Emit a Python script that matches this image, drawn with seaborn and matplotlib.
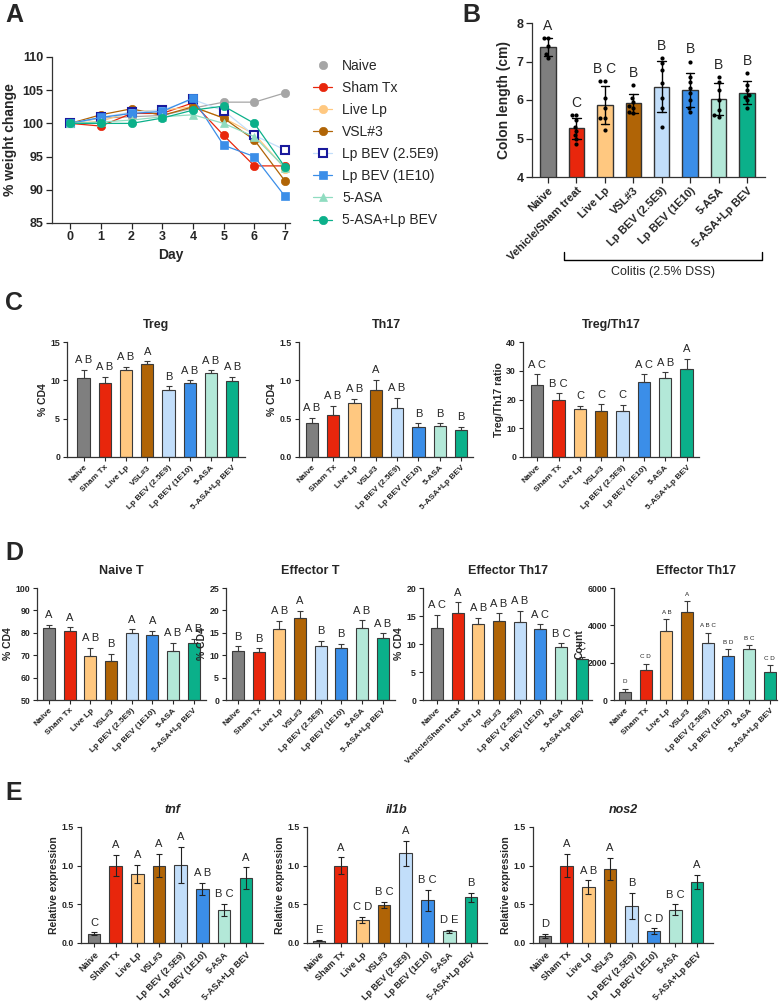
import numpy as np
import pandas as pd
import matplotlib
matplotlib.use('Agg')
import matplotlib.pyplot as plt
import seaborn as sns

sns.set_style('ticks')
plt.rcParams['font.family'] = ['Liberation Sans', 'DejaVu Sans']
plt.rcParams['axes.linewidth'] = 0.9
plt.rcParams['axes.edgecolor'] = '#333333'

# groups and colours
groups = ['Naive', 'Sham Tx', 'Live Lp', 'VSL#3', 'Lp BEV (2.5E9)', 'Lp BEV (1E10)', '5-ASA', '5-ASA+Lp BEV']
groups_vehicle = ['Naive', 'Vehicle/Sham treat', 'Live Lp', 'VSL#3', 'Lp BEV (2.5E9)', 'Lp BEV (1E10)', '5-ASA', '5-ASA+Lp BEV']
bar_colors = ['#7f7f7f', '#e8260c', '#ffc880', '#b06406', '#c2defa', '#3b8ee8', '#b3e8d8', '#0bb08a']

# Panel A - weight change
days = [0, 1, 2, 3, 4, 5, 6, 7]
w_naive = [100, 100.8, 101.0, 101.2, 102.3, 103.2, 103.2, 104.6]
w_sham = [100, 99.6, 101.5, 101.5, 103.1, 98.2, 93.6, 93.6]
w_live = [100, 100.3, 101.8, 102.0, 102.5, 100.8, 98.4, 93.2]
w_vsl = [100, 101.3, 102.2, 101.2, 102.5, 100.8, 97.5, 91.3]
w_bev_low = [100, 100.9, 101.7, 102.0, 103.6, 101.9, 98.2, 96.0]
w_bev_high = [100, 100.9, 101.5, 101.8, 103.8, 96.7, 95.0, 89.0]
w_asa = [100, 100.2, 100.5, 101.0, 101.3, 100.0, 98.0, 93.3]
w_combo = [100, 100.0, 100.0, 100.8, 102.0, 102.6, 100.0, 93.4]
line_colors = ['#a6a6a6', '#e8260c', '#ffc880', '#b06406', '#c2defa', '#3b8ee8', '#8fdcc0', '#0bb08a']
line_markers = ['o', 'o', 'o', 'o', 's', 's', '^', 'o']

# Panel B - colon length (individual mice)
cl_naive = [7.6, 7.6, 7.4, 7.2, 7.1]
cl_sham = [5.6, 5.6, 5.48, 5.3, 5.2, 5.1, 5.0, 4.87]
cl_live = [6.5, 6.5, 6.05, 5.78, 5.52, 5.52, 5.22]
cl_vsl = [6.4, 6.05, 5.95, 5.85, 5.8, 5.7, 5.65]
cl_bev_low = [7.09, 6.96, 6.78, 6.43, 6.04, 5.78, 5.3]
cl_bev_high = [7.0, 6.6, 6.48, 6.3, 6.17, 6.0, 5.8, 5.7]
cl_asa = [6.59, 6.48, 6.26, 6.0, 5.74, 5.6, 5.57]
cl_combo = [6.7, 6.39, 6.26, 6.13, 6.09, 6.0, 5.78]
cl_letters = ['A', 'C', 'B C', 'B', 'B', 'B', 'B', 'B']

# Panel C
treg = [10.3, 9.6, 11.3, 12.1, 8.7, 9.6, 10.9, 9.9]
treg_err = [1.1, 0.9, 0.5, 0.4, 0.5, 0.4, 0.4, 0.6]
treg_let = ['A B', 'A B', 'A B', 'A', 'B', 'A B', 'A B', 'A B']
th17 = [0.44, 0.55, 0.70, 0.87, 0.64, 0.39, 0.41, 0.35]
th17_err = [0.07, 0.12, 0.06, 0.14, 0.13, 0.05, 0.03, 0.04]
th17_let = ['A B', 'A B', 'A B', 'A', 'A B', 'B', 'B', 'B']
ratio = [24.9, 20.0, 16.6, 16.0, 16.0, 26.2, 27.5, 30.6]
ratio_err = [3.8, 2.1, 1.2, 2.3, 2.1, 2.6, 2.0, 3.5]
ratio_let = ['A C', 'B C', 'C', 'C', 'C', 'A C', 'A B', 'A']

# Panel D
naive_t = [82.3, 80.6, 69.5, 67.6, 79.8, 79.2, 71.8, 75.5]
naive_t_err = [1.3, 1.8, 3.8, 3.0, 1.8, 1.7, 3.7, 1.9]
naive_t_let = ['A', 'A', 'A B', 'B', 'A', 'A', 'A B', 'A B']
eff_t = [11.0, 10.8, 15.9, 18.3, 12.1, 11.7, 16.1, 13.9]
eff_t_err = [1.0, 0.8, 1.8, 1.6, 1.1, 0.9, 1.7, 1.0]
eff_t_let = ['B', 'B', 'A B', 'A', 'B', 'B', 'A B', 'A B']
eff_th17 = [12.8, 15.5, 13.5, 14.1, 14.0, 12.7, 9.4, 7.3]
eff_th17_err = [2.4, 2.0, 1.2, 1.4, 1.9, 0.8, 0.7, 0.4]
eff_th17_let = ['A C', 'A', 'A B', 'A B', 'A B', 'A C', 'B C', 'C']
eff_count = [450, 1620, 3720, 4730, 3080, 2380, 2750, 1520]
eff_count_err = [150, 330, 620, 560, 530, 330, 180, 350]
eff_count_let = ['D', 'C D', 'A B', 'A', 'A B C', 'B D', 'B C', 'C D']

# Panel E
tnf = [0.12, 1.0, 0.89, 1.0, 1.01, 0.70, 0.43, 0.84]
tnf_err = [0.02, 0.14, 0.12, 0.15, 0.23, 0.08, 0.08, 0.14]
tnf_let = ['C', 'A', 'A', 'A', 'A', 'A B', 'B C', 'A']
il1b = [0.03, 1.0, 0.30, 0.49, 1.16, 0.55, 0.15, 0.59]
il1b_err = [0.01, 0.11, 0.04, 0.04, 0.16, 0.14, 0.02, 0.06]
il1b_let = ['E', 'A', 'C D', 'B C', 'A', 'B C', 'D E', 'B']
nos2 = [0.09, 1.0, 0.72, 0.96, 0.48, 0.15, 0.43, 0.79]
nos2_err = [0.03, 0.15, 0.09, 0.14, 0.17, 0.04, 0.07, 0.09]
nos2_let = ['D', 'A', 'A B', 'A', 'B', 'C D', 'B C', 'A']

W, H = 782, 1001
fig = plt.figure(figsize=(W / 100, H / 100), dpi=100)


def px_axes(left, right, top, bottom):
    return fig.add_axes([left / W, 1 - bottom / H, (right - left) / W, (bottom - top) / H])


def bold_ticks(ax):
    for lbl in ax.get_yticklabels() + ax.get_xticklabels():
        lbl.set_fontweight('bold')


def bar_panel(rect, xlim, labels, values, errors, letters, title, ylabel, ylim, yticks,
              two_sided=False, italic=False, letter_size=8, tick_size=6.3, xtick_size=6):
    ax = px_axes(*rect)
    sns.barplot(x=labels, y=values, hue=labels, order=labels, hue_order=labels,
                palette=bar_colors, saturation=1, legend=False, width=0.58,
                edgecolor='#3a3a3a', linewidth=0.8, ax=ax)
    lower = errors if two_sided else [0] * len(errors)
    ecol = '#222222' if two_sided else '#3a3a3a'
    ax.errorbar(range(len(values)), values, yerr=[lower, errors], fmt='none',
                ecolor=ecol, elinewidth=0.8, capsize=2.5, capthick=0.8)
    span = ylim[1] - ylim[0]
    for i, (v, e, t) in enumerate(zip(values, errors, letters)):
        ax.text(i, v + e + 0.04 * span, t, ha='center', va='bottom', fontsize=letter_size)
    ax.set_xlim(*xlim)
    ax.set_ylim(*ylim)
    ax.set_yticks(yticks)
    ax.set_xticks(range(len(labels)))
    ax.set_xticklabels(labels, rotation=45, ha='right', rotation_mode='anchor')
    ax.tick_params(axis='both', length=3, width=0.8, pad=2, labelsize=tick_size)
    ax.tick_params(axis='x', labelsize=xtick_size)
    ax.set_xlabel('')
    ax.set_ylabel(ylabel, fontsize=7.5, fontweight='bold', labelpad=2)
    ax.set_title(title, fontsize=9, fontweight='bold', style='italic' if italic else 'normal', pad=10)
    sns.despine(ax=ax)
    bold_ticks(ax)
    return ax


# ---------------- Panel A ----------------
axA = px_axes(52, 290, 57, 223)
weights = [w_naive, w_sham, w_live, w_vsl, w_bev_low, w_bev_high, w_asa, w_combo]
for name, w, c, m in zip(groups, weights, line_colors, line_markers):
    if name == 'Lp BEV (2.5E9)':
        sns.lineplot(x=days, y=w, ax=axA, color=c, marker=m, markersize=6, linewidth=0.9,
                     markerfacecolor='white', markeredgecolor='#1a1a9c', markeredgewidth=1.5,
                     label=name, clip_on=False)
    else:
        sns.lineplot(x=days, y=w, ax=axA, color=c, marker=m, markersize=6, linewidth=0.9,
                     markeredgecolor=c, markeredgewidth=0.5, label=name, clip_on=False)
axA.set_xlim(-0.59, 7.16)
axA.set_ylim(85, 110)
axA.set_xticks(days)
axA.set_yticks([85, 90, 95, 100, 105, 110])
axA.tick_params(axis='both', length=4, width=0.9, labelsize=9, pad=2)
axA.set_xlabel('Day', fontsize=10, fontweight='bold', labelpad=3)
axA.set_ylabel('% weight change', fontsize=10, fontweight='bold', labelpad=4)
sns.despine(ax=axA)
bold_ticks(axA)
leg = axA.legend(loc='upper left', bbox_to_anchor=(313 / W, 1 - 59 / H), bbox_transform=fig.transFigure,
                 frameon=False, fontsize=10, handlelength=1.4, handletextpad=0.7, labelspacing=0.58,
                 borderaxespad=0, borderpad=0)
leg.get_lines()[0].set_linestyle('None')

# ---------------- Panel B ----------------
axB = px_axes(532, 765, 23, 177)
cl_all = [cl_naive, cl_sham, cl_live, cl_vsl, cl_bev_low, cl_bev_high, cl_asa, cl_combo]
df_b = pd.DataFrame({'group': [g for g, v in zip(groups_vehicle, cl_all) for _ in v],
                     'length': [x for v in cl_all for x in v]})
sns.barplot(data=df_b, x='group', y='length', order=groups_vehicle, hue='group',
            hue_order=groups_vehicle, palette=bar_colors, saturation=1, legend=False,
            errorbar='sd', capsize=0.3, err_kws={'color': 'black', 'linewidth': 1}, width=0.54,
            edgecolor='#333333', linewidth=1, ax=axB)
sns.swarmplot(data=df_b, x='group', y='length', order=groups_vehicle, color='black',
              size=3, ax=axB)
for i, (v, t) in enumerate(zip(cl_all, cl_letters)):
    top = max(max(v), np.mean(v) + np.std(v, ddof=1))
    axB.text(i, top + 0.13, t, ha='center', va='bottom', fontsize=10)
axB.set_xlim(-0.56, 7.63)
axB.set_ylim(4, 8)
axB.set_yticks([4, 5, 6, 7, 8])
axB.set_xticks(range(8))
axB.set_xticklabels(groups_vehicle, rotation=45, ha='right', rotation_mode='anchor', fontsize=8)
axB.tick_params(axis='both', length=4, width=0.9, labelsize=9, pad=2)
axB.tick_params(axis='x', labelsize=8)
axB.set_xlabel('')
axB.set_ylabel('Colon length (cm)', fontsize=10, fontweight='bold', labelpad=4)
sns.despine(ax=axB)
bold_ticks(axB)
tr = axB.get_xaxis_transform()
axB.plot([0.56, 0.56, 7.53, 7.53], [-0.49, -0.54, -0.54, -0.49], color='black', lw=1,
         transform=tr, clip_on=False)
axB.text(4.05, -0.62, 'Colitis (2.5% DSS)', ha='center', va='center', fontsize=9, transform=tr)

# ---------------- Panel C ----------------
bar_panel((67, 245, 342, 457), (-0.78, 7.6), groups, treg, treg_err, treg_let,
          'Treg', '% CD4', (0, 15), [0, 5, 10, 15])
bar_panel((299, 473, 342, 457), (-0.6, 7.56), groups, th17, th17_err, th17_let,
          'Th17', '% CD4', (0, 1.5), [0.0, 0.5, 1.0, 1.5])
bar_panel((523, 699, 342, 457), (-0.67, 7.58), groups, ratio, ratio_err, ratio_let,
          'Treg/Th17', 'Treg/Th17 ratio', (0, 40), [0, 10, 20, 30, 40])

# ---------------- Panel D ----------------
bar_panel((37, 206, 588, 700), (-0.58, 7.6), groups, naive_t, naive_t_err, naive_t_let,
          'Naive T', '% CD4', (50, 100), [50, 60, 70, 80, 90, 100])
bar_panel((226, 395, 588, 700), (-0.58, 7.6), groups, eff_t, eff_t_err, eff_t_let,
          'Effector T', '% CD4', (0, 25), [0, 5, 10, 15, 20, 25])
bar_panel((423, 592, 588, 700), (-0.68, 7.5), groups_vehicle, eff_th17, eff_th17_err, eff_th17_let,
          'Effector Th17', '% CD4', (0, 20), [0, 5, 10, 15, 20])
bar_panel((614, 777, 588, 700), (-0.53, 7.35), groups, eff_count, eff_count_err, eff_count_let,
          'Effector Th17', 'Count', (0, 6000), [0, 2000, 4000, 6000], letter_size=4.5)

# ---------------- Panel E ----------------
bar_panel((81, 263, 827, 943), (-0.6, 7.79), groups, tnf, tnf_err, tnf_let,
          'tnf', 'Relative expression', (0, 1.5), [0.0, 0.5, 1.0, 1.5],
          two_sided=True, italic=True, xtick_size=6.5)
bar_panel((307, 487, 827, 943), (-0.55, 7.74), groups, il1b, il1b_err, il1b_let,
          'il1b', 'Relative expression', (0, 1.5), [0.0, 0.5, 1.0, 1.5],
          two_sided=True, italic=True, xtick_size=6.5)
bar_panel((533, 713, 827, 943), (-0.55, 7.74), groups, nos2, nos2_err, nos2_let,
          'nos2', 'Relative expression', (0, 1.5), [0.0, 0.5, 1.0, 1.5],
          two_sided=True, italic=True, xtick_size=6.5)

# panel letters
for lbl, x, y in [('A', 5, 3), ('B', 462, 3), ('C', 5, 291), ('D', 5, 541), ('E', 5, 781)]:
    fig.text(x / W, 1 - y / H, lbl, fontsize=18, fontweight='bold', ha='left', va='top')

fig.savefig('out.png', dpi=100)
